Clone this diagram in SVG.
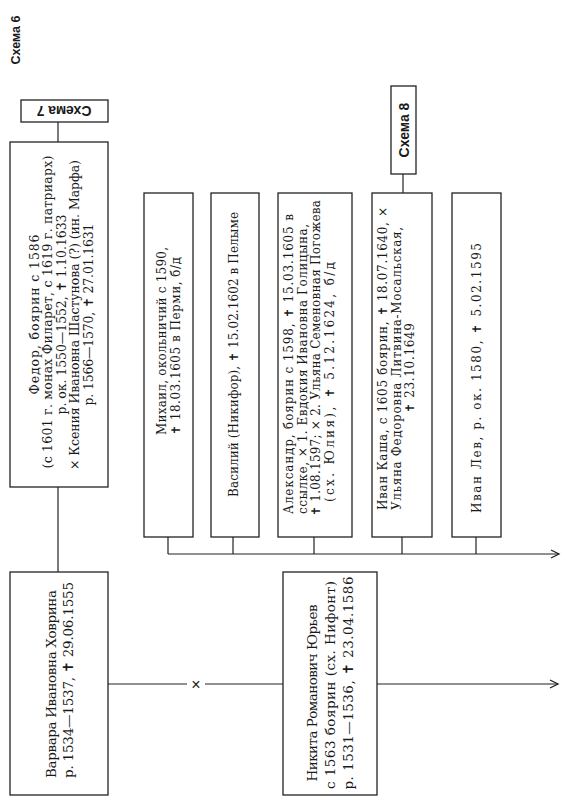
<svg xmlns="http://www.w3.org/2000/svg" width="568" height="800" viewBox="0 0 568 800">
<defs>
<marker id="arr" markerWidth="12" markerHeight="12" refX="10" refY="6" orient="auto" markerUnits="userSpaceOnUse"><path d="M2,2 L10,6 L2,10" fill="none" stroke="#222" stroke-width="1.3"/></marker>
<style>
.box{fill:#fff;stroke:#222;stroke-width:1.3}
.t{font-family:"DejaVu Serif",serif;font-size:12px;fill:#1a1a1a;dominant-baseline:central}
.tf{font-size:12.5px}
.tl{font-size:13.5px}
.c{text-anchor:middle}
.lbl{font-family:"Liberation Sans",sans-serif;font-weight:bold;font-size:12.5px;fill:#1a1a1a;dominant-baseline:central;text-anchor:middle}
.lb{font-size:14px}
.ln{stroke:#222;stroke-width:1.2;fill:none}
</style>
</defs>
<rect width="568" height="800" fill="#fff"/>
<text class="lbl" transform="translate(16,40) rotate(-90)">Схема 6</text>

<g id="connectors">
<path class="ln" d="M58,122V142"/>
<path class="ln" d="M58,487V572"/>
<path class="ln" d="M108,684H187M205,684H283"/>
<path class="ln" d="M377,684H558" marker-end="url(#arr)"/>
<path class="ln" d="M403,174V193"/>
<path class="ln" d="M168,554H559" marker-end="url(#arr)"/>
<path class="ln" d="M168,537V554M233,537V554M314,537V554M402,537V554M476,537V554"/>
<text x="196" y="684" style="font-family:'Liberation Sans',sans-serif;font-size:16px;fill:#1a1a1a;text-anchor:middle;dominant-baseline:central">×</text>
</g>

<g id="schema7">
<rect class="box" x="21" y="100" width="87" height="22"/>
<text class="lbl lb" transform="translate(64,111) rotate(180)">Схема 7</text>
</g>

<g id="schema8">
<rect class="box" x="391" y="86" width="25" height="88"/>
<text class="lbl lb" transform="translate(403.5,130) rotate(-90)">Схема 8</text>
</g>

<g id="fedor">
<rect class="box" x="10" y="142" width="98" height="345"/>
<text class="t tf c" transform="translate(34,314.5) rotate(-90)" textLength="160">Федор, боярин с 1586</text>
<text class="t tf c" transform="translate(47.5,312) rotate(-90)" textLength="313">(с 1601 г. монах Филарет, с 1619 г. патриарх)</text>
<text class="t tf c" transform="translate(61,314.5) rotate(-90)" textLength="200">р. ок. 1550—1552, ✝ 1.10.1633</text>
<text class="t tf c" transform="translate(74.5,315) rotate(-90)" textLength="310">× Ксения Ивановна Шастунова (?) (ин. Марфа)</text>
<text class="t tf c" transform="translate(88,314.5) rotate(-90)" textLength="182">р. 1566—1570, ✝ 27.01.1631</text>
</g>

<g id="mikhail">
<rect class="box" x="144" y="193" width="49" height="344"/>
<text class="t" transform="translate(162,435) rotate(-90)" textLength="188">Михаил, окольничий с 1590,</text>
<text class="t" transform="translate(176,435) rotate(-90)" textLength="178">✝ 18.03.1605 в Перми, б/д</text>
</g>

<g id="vasily">
<rect class="box" x="211" y="193" width="48" height="344"/>
<text class="t" transform="translate(234,497) rotate(-90)" textLength="285">Василий (Никифор), ✝ 15.02.1602 в Пелыме</text>
</g>

<g id="alexander">
<rect class="box" x="278" y="193" width="74" height="344"/>
<text class="t" transform="translate(289,514) rotate(-90)" textLength="300">Александр, боярин с 1598, ✝ 15.03.1605 в</text>
<text class="t" transform="translate(302.5,514) rotate(-90)" textLength="290">ссылке, × 1. Евдокия Ивановна Голицына,</text>
<text class="t" transform="translate(316,516) rotate(-90)" textLength="316">✝ 1.08.1597; × 2. Ульяна Семеновная Погожева</text>
<text class="t" transform="translate(329.5,502) rotate(-90)" textLength="240">(сх. Юлия), ✝ 5.12.1624, б/д</text>
</g>

<g id="ivan-kasha">
<rect class="box" x="372" y="193" width="60" height="344"/>
<text class="t" transform="translate(383,510) rotate(-90)" textLength="303">Иван Каша, с 1605 боярин, ✝ 18.07.1640, ×</text>
<text class="t" transform="translate(396.5,510) rotate(-90)" textLength="283">Ульяна Федоровна Литвина-Мосальская,</text>
<text class="t" transform="translate(410,413) rotate(-90)" textLength="90">✝ 23.10.1649</text>
</g>

<g id="ivan-lev">
<rect class="box" x="452" y="193" width="49" height="344"/>
<text class="t" transform="translate(477,513) rotate(-90)" textLength="270">Иван Лев, р. ок. 1580, ✝ 5.02.1595</text>
</g>

<g id="varvara">
<rect class="box" x="10" y="572" width="98" height="223"/>
<text class="t tl c" transform="translate(51,684) rotate(-90)" textLength="188">Варвара Ивановна Ховрина</text>
<text class="t tl c" transform="translate(68,680) rotate(-90)" textLength="196">р. 1534—1537, ✝ 29.06.1555</text>
</g>

<g id="nikita">
<rect class="box" x="283" y="572" width="94" height="223"/>
<text class="t tl c" transform="translate(312,693) rotate(-90)" textLength="177">Никита Романович Юрьев</text>
<text class="t tl c" transform="translate(330,685) rotate(-90)" textLength="208">с 1563 боярин (сх. Нифонт)</text>
<text class="t tl c" transform="translate(348,683) rotate(-90)" textLength="213">р. 1531—1536, ✝ 23.04.1586</text>
</g>
</svg>
